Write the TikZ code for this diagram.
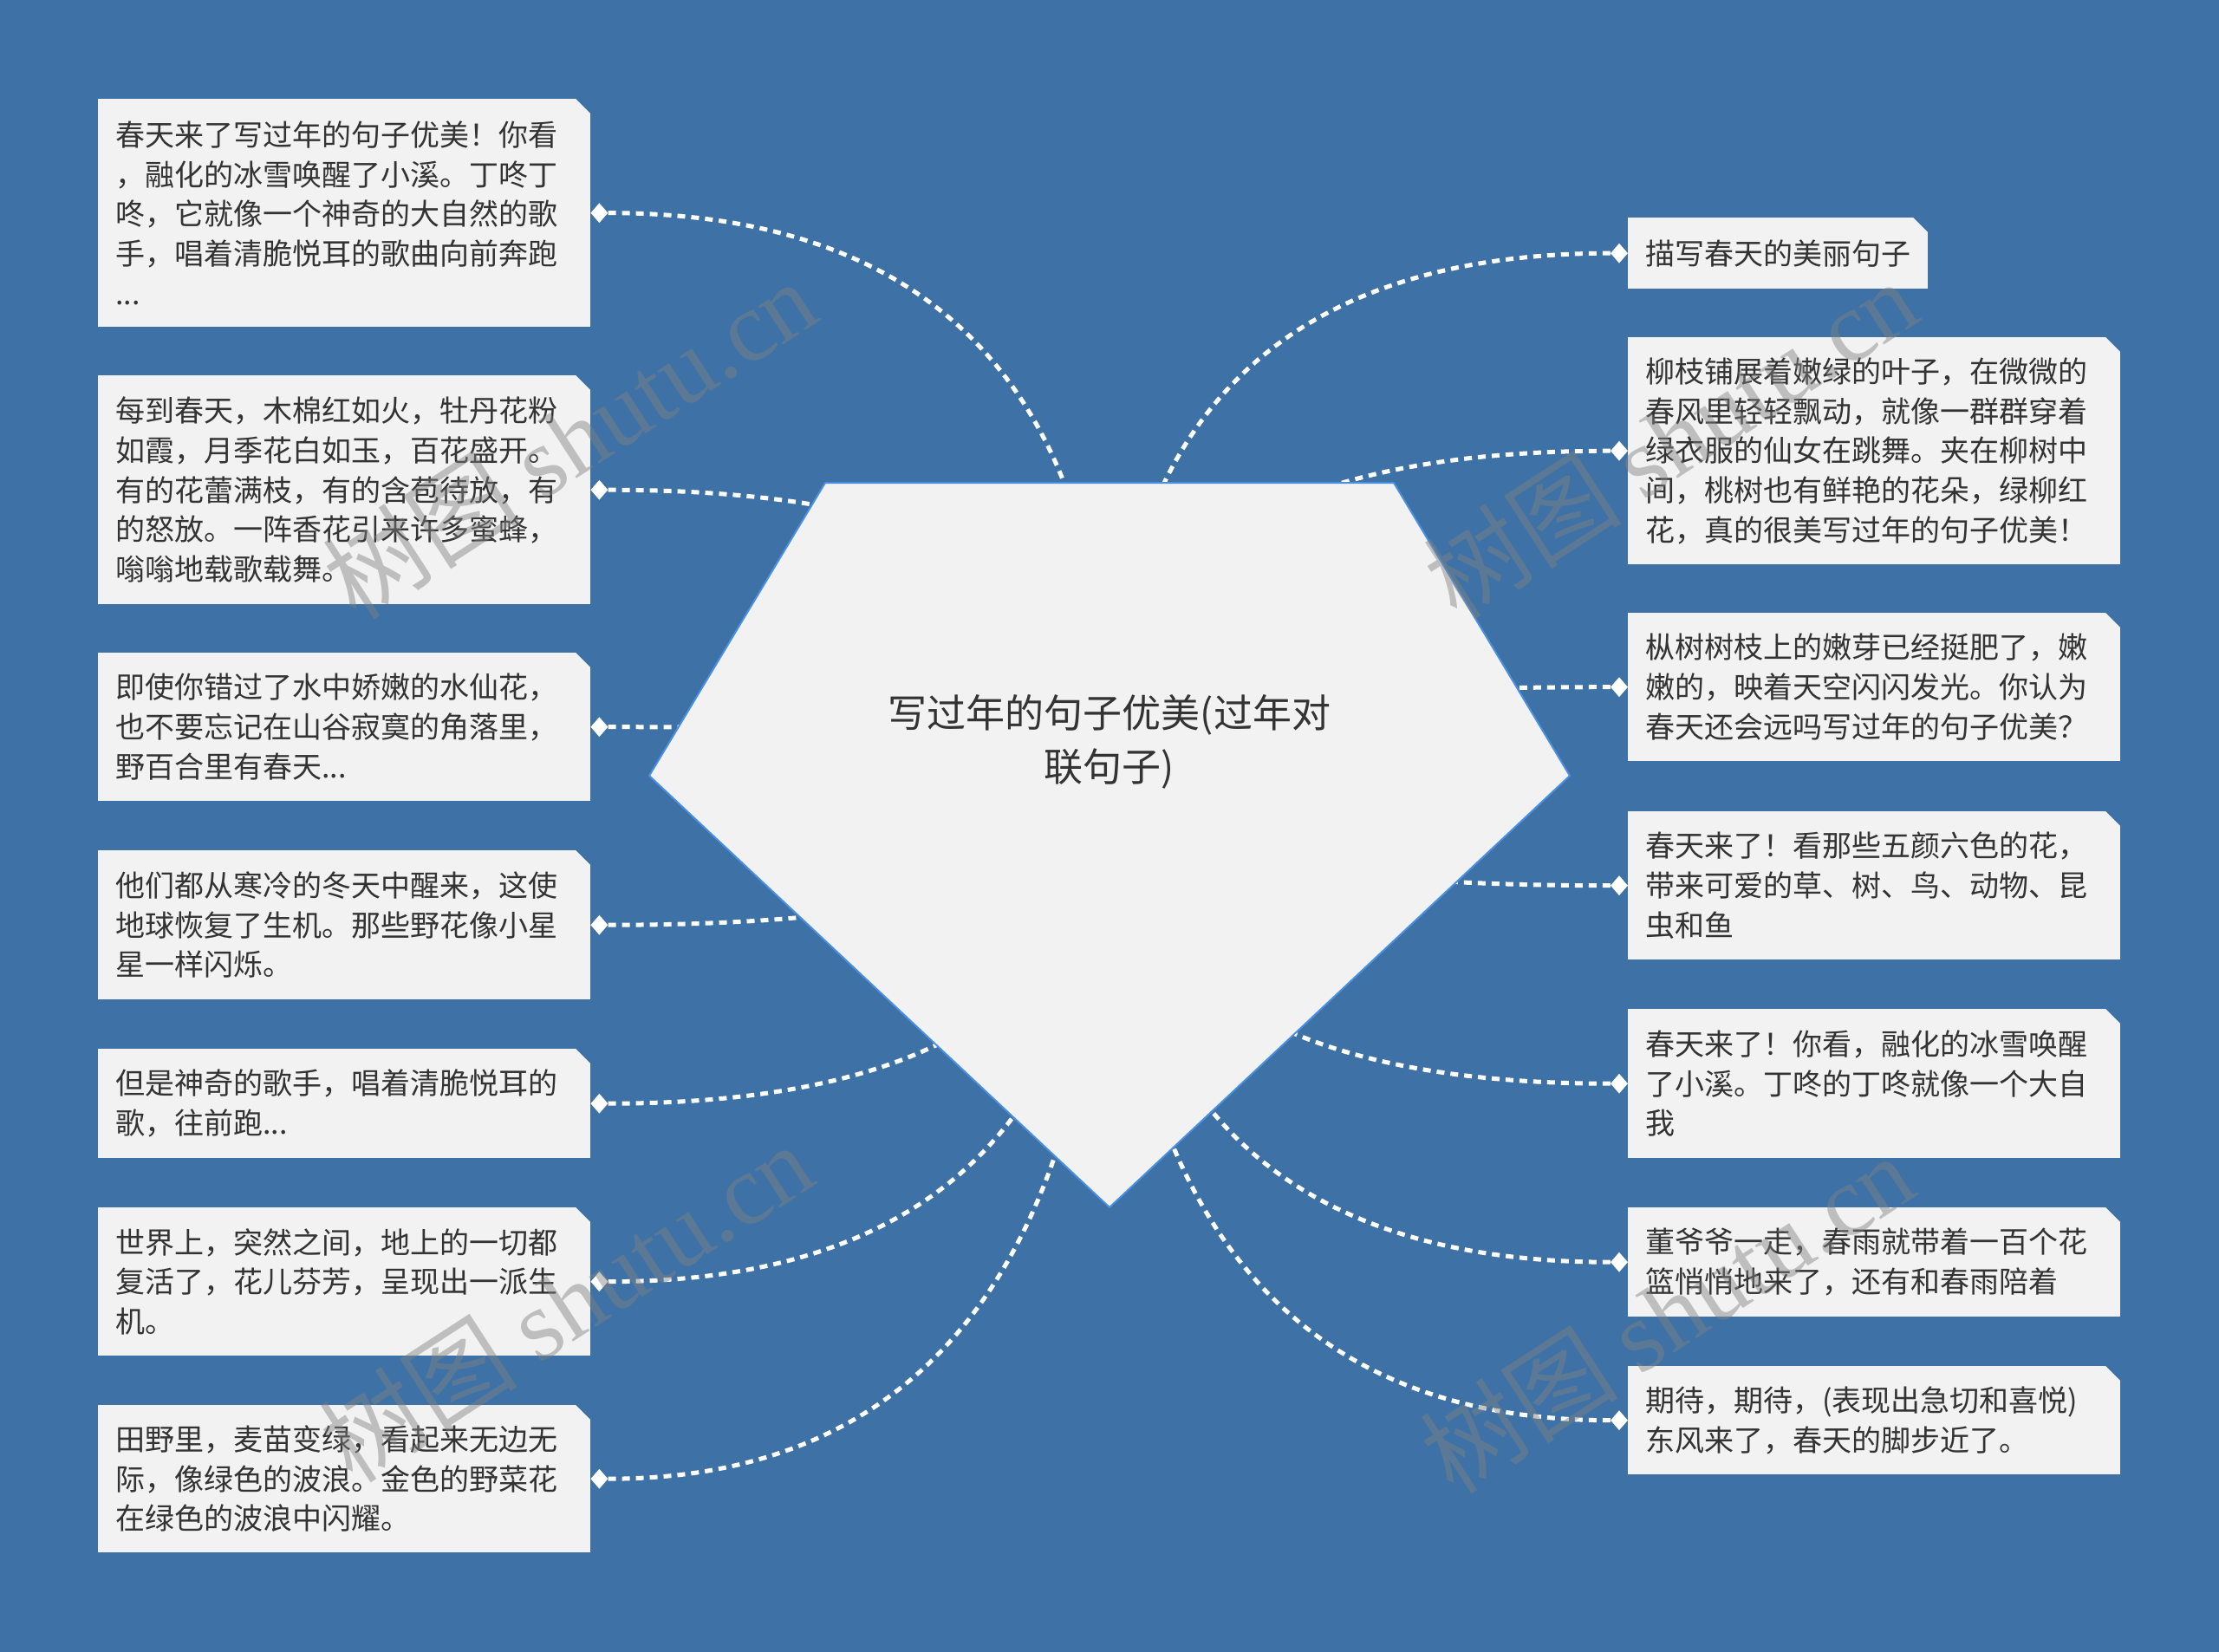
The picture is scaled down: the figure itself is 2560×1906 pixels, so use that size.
\documentclass[tikz,border=0pt]{standalone}
\usepackage{fontspec}
\setmainfont{Noto Sans CJK SC}
\newfontfamily\wmfont{Liberation Serif}
\usetikzlibrary{shapes.geometric,calc}
\definecolor{bg}{RGB}{62,114,166}
\definecolor{boxfill}{RGB}{242,242,242}
\definecolor{txt}{RGB}{51,51,51}
\definecolor{rootline}{RGB}{74,144,226}
\begin{document}
\begin{tikzpicture}[x=1pt,y=-1pt,
  leaf/.style={rectangle, fill=boxfill, anchor=north west, inner xsep=20pt, inner ysep=0pt,
    text width=528pt, minimum width=568pt, align=left, text=txt,
    font=\fontsize{34}{45.7}\selectfont},
  dot/.style={diamond, fill=white, inner sep=0pt, minimum width=20pt, minimum height=23pt},
  link/.style={draw=white, line width=5pt, dash pattern=on 9pt off 7pt},
  wm/.style={rotate=33, text=gray, text opacity=0.45, font=\fontsize{115}{115}\selectfont}]
\fill[bg] (0,0) rectangle (2560,1906);
\useasboundingbox (0,0) rectangle (2560,1906);
\coordinate (rootc) at (1280,880);
% left boxes
\node[leaf, minimum height=263pt] (l1) at (113,114) {春天来了写过年的句子优美！你看\\，融化的冰雪唤醒了小溪。丁咚丁\\咚，它就像一个神奇的大自然的歌\\手，唱着清脆悦耳的歌曲向前奔跑\\...};
\node[leaf, minimum height=264pt] (l2) at (113,433) {每到春天，木棉红如火，牡丹花粉\\如霞，月季花白如玉，百花盛开。\\有的花蕾满枝，有的含苞待放，有\\的怒放。一阵香花引来许多蜜蜂，\\嗡嗡地载歌载舞。};
\node[leaf, minimum height=171pt] (l3) at (113,753) {即使你错过了水中娇嫩的水仙花，\\也不要忘记在山谷寂寞的角落里，\\野百合里有春天...};
\node[leaf, minimum height=172pt] (l4) at (113,981) {他们都从寒冷的冬天中醒来，这使\\地球恢复了生机。那些野花像小星\\星一样闪烁。};
\node[leaf, minimum height=126pt] (l5) at (113,1210) {但是神奇的歌手，唱着清脆悦耳的\\歌，往前跑...};
\node[leaf, minimum height=171pt] (l6) at (113,1393) {世界上，突然之间，地上的一切都\\复活了，花儿芬芳，呈现出一派生\\机。};
\node[leaf, minimum height=170pt] (l7) at (113,1621) {田野里，麦苗变绿，看起来无边无\\际，像绿色的波浪。金色的野菜花\\在绿色的波浪中闪耀。};
% right boxes
\node[leaf, minimum height=82pt, text width=306pt, minimum width=346pt] (r1) at (1878,251) {描写春天的美丽句子};
\node[leaf, minimum height=262pt] (r2) at (1878,389) {柳枝铺展着嫩绿的叶子，在微微的\\春风里轻轻飘动，就像一群群穿着\\绿衣服的仙女在跳舞。夹在柳树中\\间，桃树也有鲜艳的花朵，绿柳红\\花，真的很美写过年的句子优美！};
\node[leaf, minimum height=171pt] (r3) at (1878,707) {枞树树枝上的嫩芽已经挺肥了，嫩\\嫩的，映着天空闪闪发光。你认为\\春天还会远吗写过年的句子优美？};
\node[leaf, minimum height=171pt] (r4) at (1878,936) {春天来了！看那些五颜六色的花，\\带来可爱的草、树、鸟、动物、昆\\虫和鱼};
\node[leaf, minimum height=172pt] (r5) at (1878,1164) {春天来了！你看，融化的冰雪唤醒\\了小溪。丁咚的丁咚就像一个大自\\我};
\node[leaf, minimum height=126pt] (r6) at (1878,1393) {董爷爷一走，春雨就带着一百个花\\篮悄悄地来了，还有和春雨陪着};
\node[leaf, minimum height=125pt] (r7) at (1878,1576) {期待，期待，(表现出急切和喜悦)\\东风来了，春天的脚步近了。};
% chamfered corners
\foreach \b in {l1,l2,l3,l4,l5,l6,l7,r1,r2,r3,r4,r5,r6,r7}{
  \fill[bg] ($(\b.north east)+(-18,-1)$) -- ($(\b.north east)+(1,-1)$) -- ($(\b.north east)+(1,18)$) -- cycle;
}
% diamonds
\foreach \b in {l1,l2,l3,l4,l5,l6,l7}{
  \node[dot] (d\b) at ($(\b.east)+(10,0)$) {};
}
\foreach \b in {r1,r2,r3,r4,r5,r6,r7}{
  \node[dot] (d\b) at ($(\b.west)+(-10,0)$) {};
}
% connectors
\foreach \d in {dl1,dl2,dl3,dl4,dl5,dl6,dl7,dr1,dr2,dr3,dr4,dr5,dr6,dr7}{
  \coordinate (q) at (rootc |- \d);
  \draw[link] (\d) .. controls ($(\d)!0.667!(q)$) and ($(rootc)!0.667!(q)$) .. (rootc);
}
% root
\filldraw[fill=boxfill, draw=rootline, line width=2pt] (952,557) -- (1608,557) -- (1811,895) -- (1280,1393) -- (749,895) -- cycle;
\node[align=center, text=txt, font=\fontsize{45}{62}\selectfont] (root) at (1280,856) {写过年的句子优美(过年对\\联句子)};
% watermarks
\node[wm] (w1) at (657,506) {树图 {\wmfont shutu.cn}};
\node[wm] (w2) at (1927,506) {树图 {\wmfont shutu.cn}};
\node[wm] (w3) at (653,1502) {树图 {\wmfont shutu.cn}};
\node[wm] (w4) at (1923,1515) {树图 {\wmfont shutu.cn}};
\end{tikzpicture}
\end{document}
